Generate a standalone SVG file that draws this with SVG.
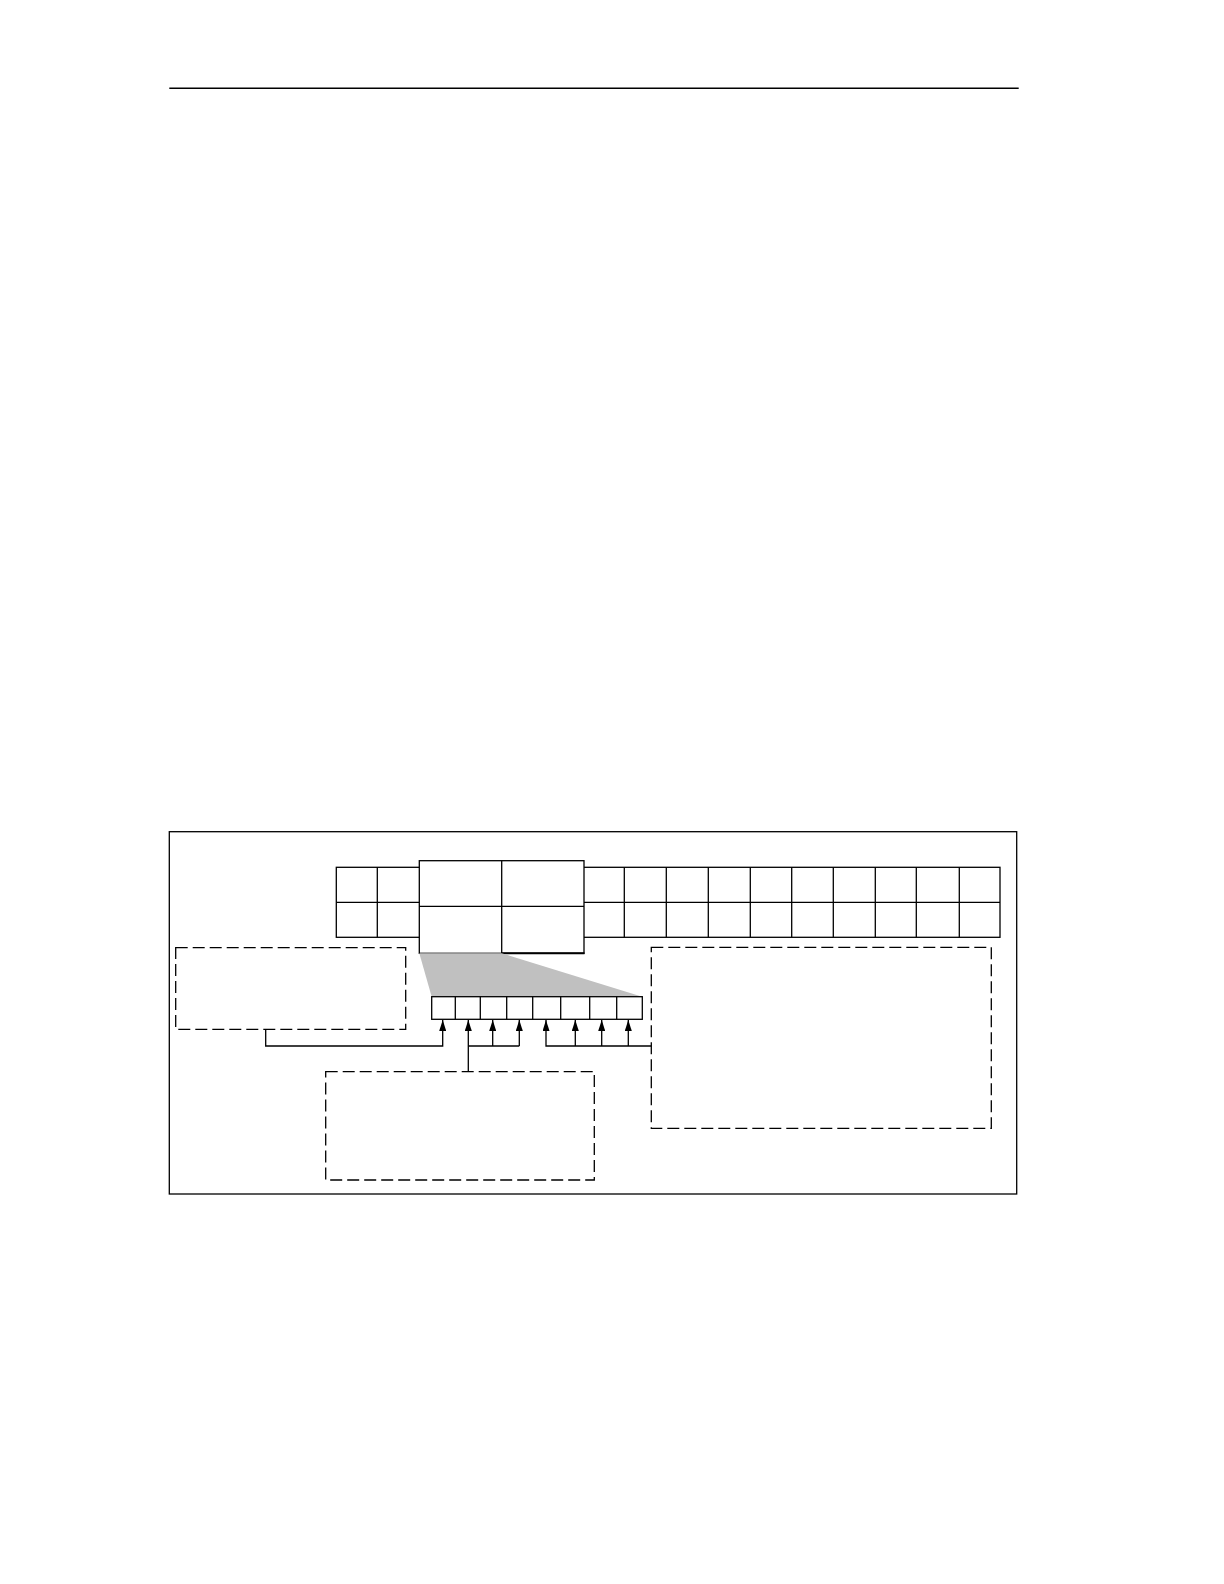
<svg xmlns="http://www.w3.org/2000/svg" width="1224" height="1584" viewBox="0 0 1224 1584">
<defs>
<style>
.ln{stroke:#000;stroke-width:1.3;fill:none}
.cell{stroke:#000;stroke-width:1.3;fill:#fff}
.dash{stroke:#000;stroke-width:1.3;fill:none;stroke-dasharray:12 5}
</style>
<marker id="ah" viewBox="0 0 11 7" refX="11" refY="3.5" markerWidth="11" markerHeight="7" markerUnits="userSpaceOnUse" orient="auto">
<path d="M0,0 L11,3.5 L0,7 Z" fill="#000"/>
</marker>
</defs>
<rect width="1224" height="1584" fill="#fff"/>
<line x1="169.3" y1="88.3" x2="1018.7" y2="88.3" stroke="#000" stroke-width="1.6"/>
<rect id="frame" x="169.3" y="831.7" width="847.4" height="362.3" class="ln"/>

<g id="memory-row">
<rect x="336.3" y="867.3" width="663.7" height="70" class="cell"/>
<line x1="336.3" y1="902.3" x2="1000" y2="902.3" class="ln"/>
<line x1="377.3" y1="867.3" x2="377.3" y2="937.3" class="ln"/>
<line x1="624.3" y1="867.3" x2="624.3" y2="937.3" class="ln"/>
<line x1="666.3" y1="867.3" x2="666.3" y2="937.3" class="ln"/>
<line x1="708.3" y1="867.3" x2="708.3" y2="937.3" class="ln"/>
<line x1="750.3" y1="867.3" x2="750.3" y2="937.3" class="ln"/>
<line x1="791.7" y1="867.3" x2="791.7" y2="937.3" class="ln"/>
<line x1="833.3" y1="867.3" x2="833.3" y2="937.3" class="ln"/>
<line x1="875.3" y1="867.3" x2="875.3" y2="937.3" class="ln"/>
<line x1="916.3" y1="867.3" x2="916.3" y2="937.3" class="ln"/>
<line x1="959.3" y1="867.3" x2="959.3" y2="937.3" class="ln"/>
</g>

<g id="zoomed-block">
<rect x="419.3" y="860.7" width="164.7" height="92.6" class="cell"/>
<line x1="419.3" y1="906.3" x2="584" y2="906.3" class="ln"/>
<line x1="501.7" y1="860.7" x2="501.7" y2="953.3" class="ln"/>
<line x1="501.7" y1="953.3" x2="584.5" y2="953.3" stroke="#000" stroke-width="2"/>
</g>

<polygon id="magnify" points="419.3,953.3 501.7,953.3 642.3,996.7 431.7,996.7" fill="#c0c0c0"/>

<g id="register">
<rect x="431.7" y="996.7" width="210.6" height="22.6" class="cell"/>
<line x1="455.3" y1="996.7" x2="455.3" y2="1019.3" class="ln"/>
<line x1="480.3" y1="996.7" x2="480.3" y2="1019.3" class="ln"/>
<line x1="506.7" y1="996.7" x2="506.7" y2="1019.3" class="ln"/>
<line x1="532.7" y1="996.7" x2="532.7" y2="1019.3" class="ln"/>
<line x1="560.7" y1="996.7" x2="560.7" y2="1019.3" class="ln"/>
<line x1="589.7" y1="996.7" x2="589.7" y2="1019.3" class="ln"/>
<line x1="616.7" y1="996.7" x2="616.7" y2="1019.3" class="ln"/>
</g>

<g id="box-left"><rect x="175.7" y="947.7" width="230" height="81.6" class="dash"/></g>
<g id="box-bottom"><rect x="325.7" y="1071.7" width="268.6" height="108.3" class="dash"/></g>
<g id="box-right"><rect x="651.3" y="947.3" width="340" height="181" class="dash"/></g>

<g id="connectors">
<polyline points="265.7,1029.3 265.7,1046 442.7,1046 442.7,1020" class="ln" marker-end="url(#ah)"/>
<polyline points="468.3,1071.7 468.3,1020" class="ln" marker-end="url(#ah)"/>
<polyline points="468.3,1046 519.3,1046" class="ln"/>
<polyline points="492.7,1046 492.7,1020" class="ln" marker-end="url(#ah)"/>
<polyline points="519.3,1046 519.3,1020" class="ln" marker-end="url(#ah)"/>
<polyline points="651.3,1046 546,1046 546,1020" class="ln" marker-end="url(#ah)"/>
<polyline points="575.3,1046 575.3,1020" class="ln" marker-end="url(#ah)"/>
<polyline points="601.7,1046 601.7,1020" class="ln" marker-end="url(#ah)"/>
<polyline points="628.3,1046 628.3,1020" class="ln" marker-end="url(#ah)"/>
</g>
</svg>
